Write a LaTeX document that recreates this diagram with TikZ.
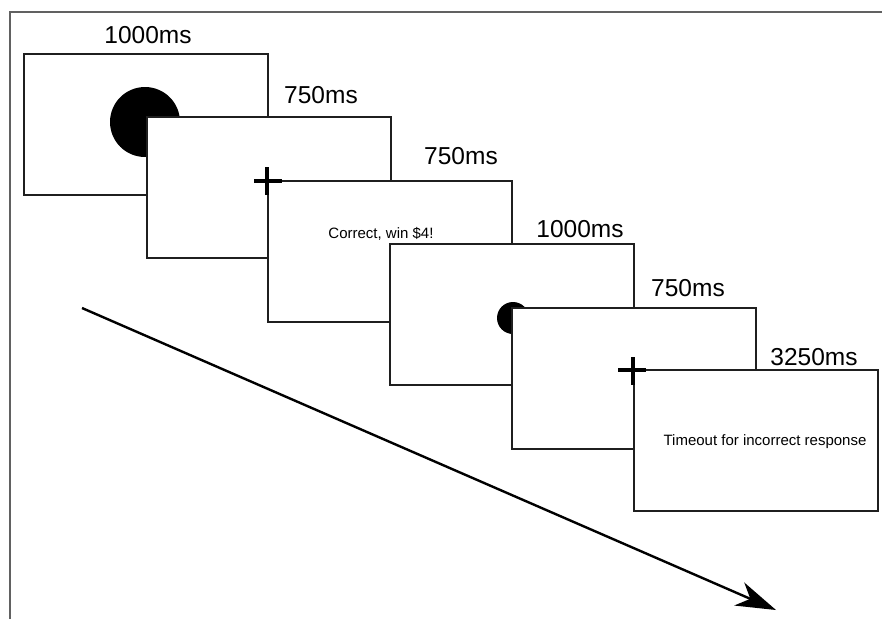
\documentclass[tikz,border=0pt]{standalone}
\usepackage{fontspec}
\setmainfont{Liberation Sans}
\usetikzlibrary{arrows.meta}
\begin{document}
\begin{tikzpicture}[x=1pt,y=-1pt,
  screen/.style={draw=black!88, line width=1.4pt, fill=white, minimum width=244pt, minimum height=141pt, inner sep=0pt, outer sep=0pt, anchor=north west},
  dur/.style={font=\fontsize{24.5}{28}\selectfont, anchor=base, inner sep=0pt},
  msg/.style={font=\fontsize{15}{18}\selectfont, anchor=base, inner sep=0pt},
  dot/.style={circle, fill=black, inner sep=0pt},
  crossbar/.style={line width=3.6pt, black},
  framel/.style={line width=1.6pt, black!62},
  timearrow/.style={line width=2.4pt, -{Stealth[length=40pt,width=25pt,inset=12pt]}}]
\useasboundingbox (0,0) rectangle (882,619);
% frame
\draw[framel] (10,619) -- (10,12) -- (882,12);
% screen 1
\node[screen] (s1) at (24,54) {};
\node[dot, minimum size=70pt] (d1) at (145,122) {};
\node[dur] (l1) at (148,43) {1000ms};
% screen 2
\node[screen] (s2) at (147,117) {};
\node[dur] (l2) at (321,103) {750ms};
% screen 3
\node[screen] (s3) at (268,181) {};
\draw[crossbar] (254,181) -- (282,181) (267,167) -- (267,195);
\node[dur] (l3) at (461,164) {750ms};
\node[msg] (m3) at (381,238) {Correct, win \$4!};
% screen 4
\node[screen] (s4) at (390,244) {};
\node[dot, minimum size=32pt] (d4) at (513,318) {};
\node[dur] (l4) at (580,237) {1000ms};
% screen 5
\node[screen] (s5) at (512,308) {};
\node[dur] (l5) at (688,296) {750ms};
% screen 6
\node[screen] (s6) at (634,370) {};
\draw[crossbar] (618,370) -- (646,370) (633,357) -- (633,385);
\node[dur] (l6) at (814,365) {3250ms};
\node[msg] (m6) at (765,445) {Timeout for incorrect response};
% time arrow
\coordinate (as) at (82,308);
\coordinate (ae) at (776,610);
\draw[timearrow] (as) -- (ae);
\end{tikzpicture}
\end{document}
